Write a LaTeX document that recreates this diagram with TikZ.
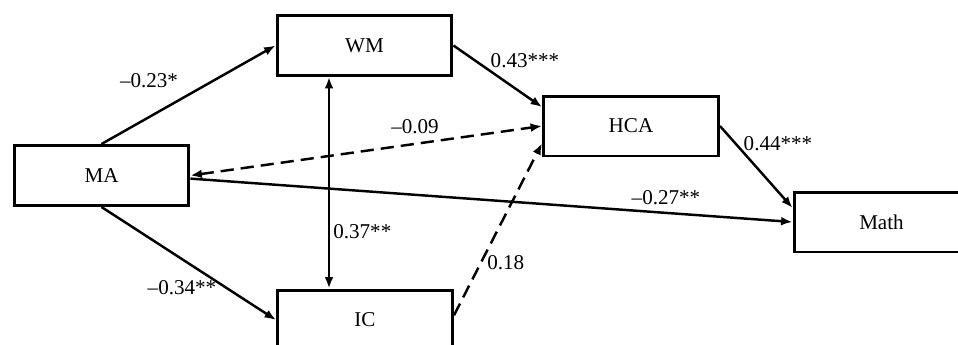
\documentclass[tikz,border=0pt]{standalone}
\usepackage{fontspec}
\setmainfont{Liberation Serif}
\usetikzlibrary{calc}
\usetikzlibrary{arrows.meta}

\begin{document}
\begin{tikzpicture}[
  x=0.02cm,y=-0.02cm,
  line join=miter,
  >={Latex[length=6.5pt,width=5pt]},
  font=\fontsize{12}{14}\selectfont
]
  \tikzset{
    var/.style={draw,line width=1.7pt,minimum width=3.5cm,minimum height=1.2cm,inner sep=0pt},
    eff/.style={line width=1.4pt,->},
    ns/.style={eff,dash pattern=on 7.5pt off 4pt},
    coef/.style={inner sep=0pt}
  }

  % Frame (IC and Math run off the edge)
  \useasboundingbox (0,0) rectangle (958,345);
  \clip (0,0) rectangle (958,345);

  % Variables
  \node[var] (MA)   at (101.5,175.5) {MA};
  \node[var] (WM)   at (364.5,45.5)  {WM};
  \node[var] (IC)   at (365,320)     {IC};
  \node[var] (HCA)  at (631,126)     {HCA};
  \node[var] (Math) at (881.5,222)   {Math};
  \coordinate (vx) at (329,0);

  % Paths
  \draw[eff] (MA.north) -- (WM.west);
  \draw[eff] (MA.south) -- (IC.west);
  \draw[eff,<->] (WM.south -| vx) -- (IC.north -| vx);
  \draw[eff] (WM.east) -- (HCA.168);
  \draw[ns,<->] (MA.east) -- (HCA.west);
  \draw[ns] (IC.3) -- (HCA.191);
  \draw[eff] (MA.-2) -- (Math.west);
  \draw[eff] (HCA.east) -- (Math.171);

  % Coefficients
  \node[coef] (c1) at (149,81)  {–0.23*};
  \node[coef] (c2) at (182,288) {–0.34**};
  \node[coef,anchor=west] (c3) at (333,232) {0.37**};
  \node[coef] (c4) at (415,127) {–0.09};
  \node[coef] (c5) at (525,61)  {0.43***};
  \node[coef,anchor=west] (c6) at (487,263) {0.18};
  \node[coef] (c7) at (666,198) {–0.27**};
  \node[coef] (c8) at (778,144) {0.44***};
\end{tikzpicture}
\end{document}
